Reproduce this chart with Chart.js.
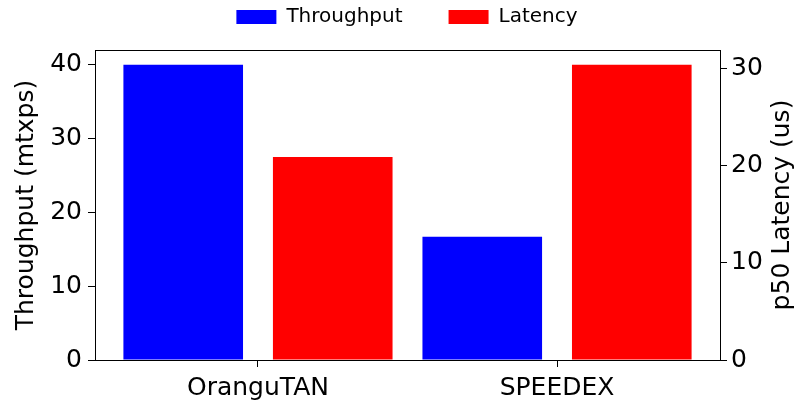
<!DOCTYPE html>
<html>
<head>
<meta charset="utf-8">
<script src="https://cdn.jsdelivr.net/npm/chart.js@4/dist/chart.umd.min.js"></script>
<style>
  html, body { margin: 0; padding: 0; background: #fff; }
  canvas { display: block; }
</style>
</head>
<body>
<canvas id="chart" width="799" height="402"></canvas>
<script>
// Benchmark results per system
const categories = ['OranguTAN', 'SPEEDEX'];
const throughput = [40, 16.7];   // mtxps
const latency = [20.9, 30.4];    // p50, microseconds
const throughputTicks = [0, 10, 20, 30, 40];
const latencyTicks = [0, 10, 20, 30];
const seriesNames = ['Throughput', 'Latency'];
const axisTitles = ['Throughput (mtxps)', 'p50 Latency (us)'];
const seriesColors = ['#0000ff', '#ff0000'];

// Bar placement in category units: two side-by-side bars per system
const BAR_OFFSET = 0.25;
const BAR_WIDTH = 0.4;
const AXIS_MARGIN = 0.05;

const xLo = -BAR_OFFSET - BAR_WIDTH / 2;
const xHi = (categories.length - 1) + BAR_OFFSET + BAR_WIDTH / 2;
const xPad = (xHi - xLo) * AXIS_MARGIN;
const xMin = xLo - xPad;
const xMax = xHi + xPad;
const yMax = Math.max(...throughput) * (1 + AXIS_MARGIN);
const y1Max = Math.max(...latency) * (1 + AXIS_MARGIN);

const FONT = 'DejaVu Sans';
Chart.defaults.font.family = FONT;
Chart.defaults.color = '#000';

const tickFont = { size: 25 };
const titleFont = { size: 25, lineHeight: 0.95 };

const barCommon = {
  grouped: false,
  categoryPercentage: 1,
  barPercentage: BAR_WIDTH / (2 * BAR_OFFSET),
  borderWidth: 0,
  xAxisID: 'x'
};

// Right-hand axis title, reading bottom to top like the left one
const rightAxisTitle = {
  id: 'rightAxisTitle',
  afterDraw(chart) {
    const { ctx, chartArea } = chart;
    const s = chart.scales.y1;
    ctx.save();
    ctx.translate(s.right - 17, (chartArea.top + chartArea.bottom) / 2);
    ctx.rotate(-Math.PI / 2);
    ctx.font = `25px "${FONT}"`;
    ctx.fillStyle = '#000';
    ctx.textAlign = 'center';
    ctx.textBaseline = 'middle';
    ctx.fillText(axisTitles[1], 0, 0);
    ctx.restore();
  }
};

const tickGrid = { drawOnChartArea: false, offset: false, tickLength: 7, tickColor: '#000', tickWidth: 1 };
const axisBorder = { color: '#000', width: 1 };

new Chart(document.getElementById('chart'), {
  type: 'bar',
  data: {
    datasets: [
      Object.assign({
        label: seriesNames[0],
        data: categories.map((c, i) => ({ x: i - BAR_OFFSET, y: throughput[i] })),
        backgroundColor: seriesColors[0],
        borderColor: seriesColors[0],
        yAxisID: 'y'
      }, barCommon),
      Object.assign({
        label: seriesNames[1],
        data: categories.map((c, i) => ({ x: i + BAR_OFFSET, y: latency[i] })),
        backgroundColor: seriesColors[1],
        borderColor: seriesColors[1],
        yAxisID: 'y1'
      }, barCommon)
    ]
  },
  options: {
    responsive: false,
    animation: false,
    layout: { padding: { top: -39, left: 15, right: 0, bottom: 0 } },
    plugins: {
      legend: {
        position: 'top',
        labels: { boxWidth: 40, boxHeight: 14, padding: 46, font: { size: 20 }, color: '#000' }
      },
      tooltip: { enabled: false }
    },
    scales: {
      x: {
        type: 'linear',
        position: 'bottom',
        offset: false,
        min: xMin,
        max: xMax,
        afterBuildTicks: s => { s.ticks = categories.map((c, i) => ({ value: i })); },
        ticks: {
          callback: v => categories[v],
          font: tickFont, padding: 6, maxRotation: 0, autoSkip: false, color: '#000'
        },
        grid: tickGrid,
        border: axisBorder,
        afterFit: s => { s.height = 42; }
      },
      x2: {
        type: 'linear',
        position: 'top',
        offset: false,
        min: xMin,
        max: xMax,
        ticks: { display: false },
        grid: { display: false },
        border: axisBorder,
        afterFit: s => { s.height = 13; }
      },
      y: {
        type: 'linear',
        position: 'left',
        min: 0,
        max: yMax,
        afterBuildTicks: s => { s.ticks = throughputTicks.map(v => ({ value: v })); },
        ticks: { font: tickFont, padding: 6, color: '#000' },
        grid: tickGrid,
        border: axisBorder,
        title: { display: true, text: axisTitles[0], font: titleFont, padding: 0, color: '#000' },
        afterFit: s => { s.width = 80; }
      },
      y1: {
        type: 'linear',
        position: 'right',
        min: 0,
        max: y1Max,
        afterBuildTicks: s => { s.ticks = latencyTicks.map(v => ({ value: v })); },
        ticks: { font: tickFont, padding: 4, color: '#000' },
        grid: tickGrid,
        border: axisBorder,
        afterFit: s => { s.width = 79; }
      }
    }
  },
  plugins: [rightAxisTitle]
});
</script>
</body>
</html>
